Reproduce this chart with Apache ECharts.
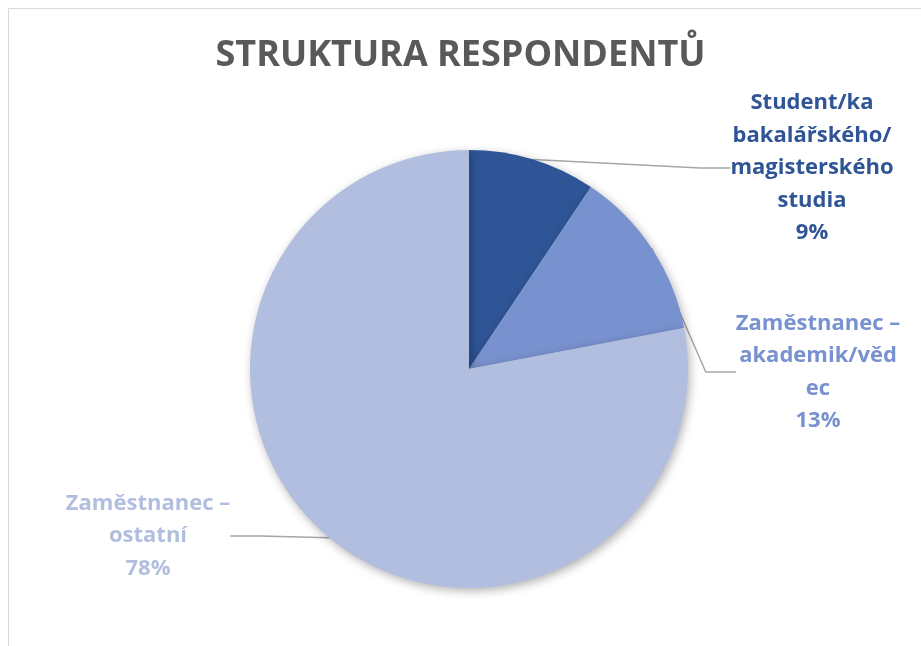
<!DOCTYPE html>
<html>
<head>
<meta charset="utf-8">
<script src="https://cdn.jsdelivr.net/npm/echarts@6/dist/echarts.min.js"></script>
<style>
  html, body { margin: 0; padding: 0; background: #fff; }
  #chart { width: 921px; height: 646px; }
</style>
</head>
<body>
<div id="chart"></div>
<script>
// data
var categories = [
  "Student/ka\nbakalářského/\nmagisterského\nstudia",
  "Zaměstnanec –\nakademik/věd\nec",
  "Zaměstnanec –\nostatní"
];
var values = [9.4, 12.6, 78.0];
var colors = ["#2F5597", "#7891CF", "#B2BEDF"];

var chartDom = document.getElementById("chart");
var myChart = echarts.init(chartDom);

// where Excel put each label (centre of the text block)
var labelSpots = [
  { x: 812, y: 168 },
  { x: 818, y: 372 },
  { x: 148, y: 536 }
];

var option = {
  animation: false,
  textStyle: { fontFamily: "Open Sans" },
  title: {
    text: "STRUKTURA RESPONDENTŮ",
    left: "center",
    top: 33,
    textStyle: { fontFamily: "Open Sans", fontSize: 36, fontWeight: "bold", color: "#595959" }
  },
  graphic: [
    {
      type: "rect",
      shape: { x: 8.5, y: 8.5, width: 940, height: 700 },
      style: { fill: null, stroke: "#D9D9D9", lineWidth: 1 },
      silent: true
    }
  ],
  series: [
    {
      type: "pie",
      center: [469, 369],
      radius: 219,
      startAngle: 90,
      clockwise: true,
      itemStyle: {
        shadowBlur: 10,
        shadowOffsetX: 2,
        shadowOffsetY: 3,
        shadowColor: "rgba(0,0,0,0.3)"
      },
      label: {
        show: true,
        position: "outside",
        fontFamily: "Open Sans",
        fontSize: 22,
        fontWeight: "bold",
        lineHeight: 32.5,
        align: "center",
        formatter: function (p) {
          return p.name + "\n" + Math.round(p.percent) + "%";
        }
      },
      labelLine: {
        show: true,
        lineStyle: { color: "#A6A6A6", width: 1.5 }
      },
      labelLayout: function (params) {
        var s = labelSpots[params.dataIndex];
        return { x: s.x, y: s.y, align: "center", verticalAlign: "middle" };
      },
      data: categories.map(function (c, i) {
        return {
          name: c,
          value: values[i],
          itemStyle: { color: colors[i] },
          label: { color: colors[i] }
        };
      })
    }
  ]
};

option && myChart.setOption(option);
</script>
</body>
</html>
